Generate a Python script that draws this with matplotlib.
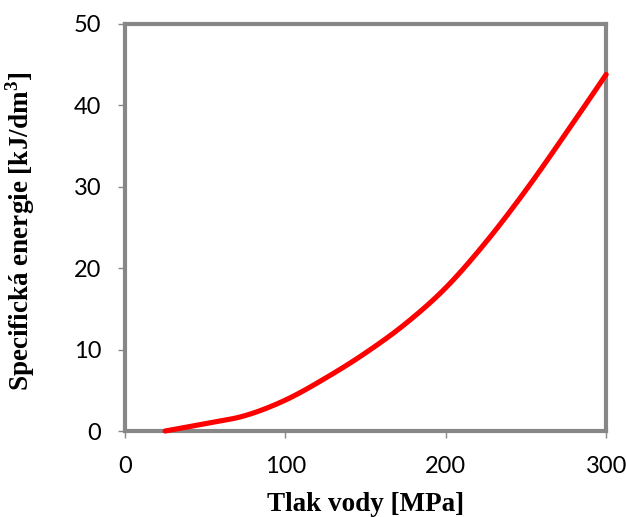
import matplotlib
matplotlib.use('Agg')
import matplotlib.pyplot as plt
import numpy as np

# Data
tlak = [25, 50, 75, 100, 125, 150, 175, 200, 225, 250, 275, 300]
energie = [0.0, 0.9, 1.9, 3.8, 6.5, 9.6, 13.2, 17.6, 23.2, 29.6, 36.6, 43.8]

x_ticks = [0, 100, 200, 300]
y_ticks = [0, 10, 20, 30, 40, 50]

gray = '#878787'

fig = plt.figure(figsize=(6.26, 5.17), dpi=100)
ax = fig.add_axes([0.1997, 0.1663, 0.7686, 0.7873])

# smooth the line like Excel's smoothed line (Catmull-Rom)
pts = np.column_stack([tlak, energie]).astype(float)
p = np.vstack([pts[0], pts, pts[-1]])
xx, yy = [], []
for i in range(1, len(p) - 2):
    p0, p1, p2, p3 = p[i - 1], p[i], p[i + 1], p[i + 2]
    for t in np.linspace(0, 1, 20, endpoint=False):
        t2, t3 = t * t, t * t * t
        pt = 0.5 * ((2 * p1) + (-p0 + p2) * t + (2 * p0 - 5 * p1 + 4 * p2 - p3) * t2
                    + (-p0 + 3 * p1 - 3 * p2 + p3) * t3)
        xx.append(pt[0]); yy.append(pt[1])
xx.append(pts[-1][0]); yy.append(pts[-1][1])

ax.plot(xx, yy, color='#ff0000', linewidth=3.7, solid_capstyle='round', clip_on=False, zorder=3)

ax.set_xlim(0, 300)
ax.set_ylim(0, 50)
ax.set_xticks(x_ticks)
ax.set_yticks(y_ticks)

for s in ax.spines.values():
    s.set_color(gray)
    s.set_linewidth(3)

ax.tick_params(axis='both', direction='out', length=5, width=1, color=gray, labelsize=17)
for lab in ax.get_xticklabels() + ax.get_yticklabels():
    lab.set_fontfamily('Lato')
ax.tick_params(axis='x', pad=13)
ax.tick_params(axis='y', pad=12)

ax.set_xlabel('Tlak vody [MPa]', fontfamily='Liberation Serif', fontweight='bold', fontsize=19.5)
ax.set_ylabel('Specifická energie [kJ/dm$^\\mathregular{3}$]', fontfamily='Liberation Serif',
              fontweight='bold', fontsize=19.5)
ax.xaxis.set_label_coords(0.5, -0.15)
ax.yaxis.set_label_coords(-0.183, 0.49)

fig.savefig('out.png', dpi=100)
